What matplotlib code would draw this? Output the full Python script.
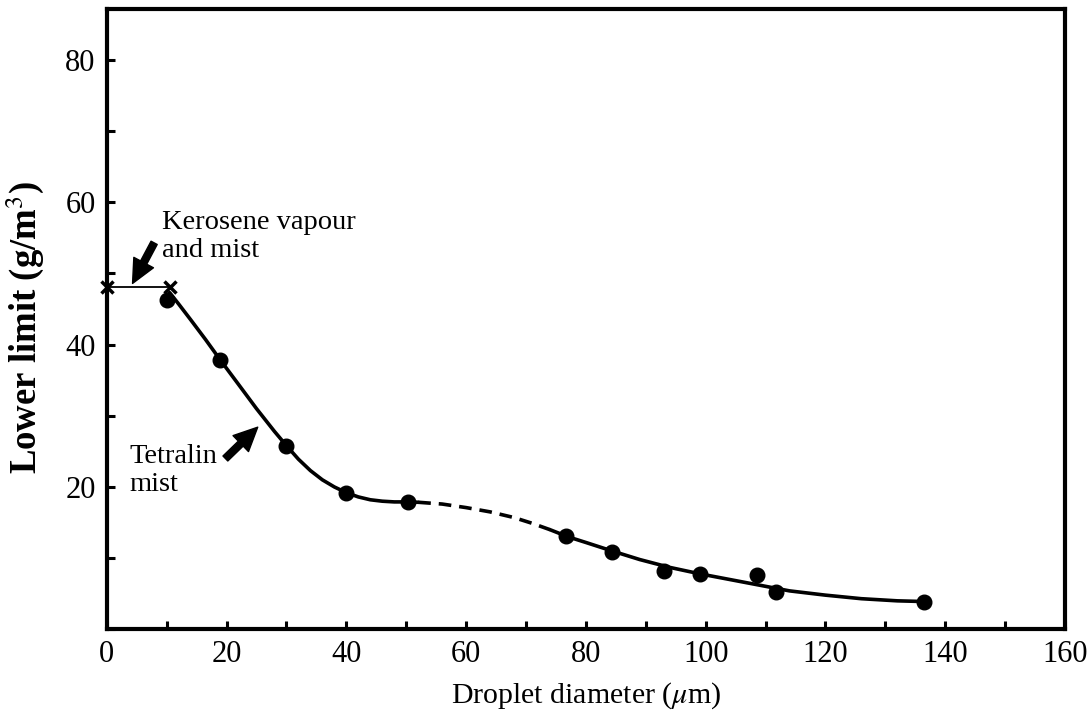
import matplotlib
matplotlib.use("Agg")
import matplotlib.pyplot as plt

# measured points (tetralin mist)
pt_x = [10.0, 18.9, 30.0, 40.0, 50.3, 76.6, 84.4, 93.0, 99.1, 108.5, 111.8, 136.5]
pt_y = [46.2, 37.9, 25.8, 19.2, 17.9, 13.1, 10.9, 8.2, 7.7, 7.6, 5.2, 3.9]

# kerosene vapour and mist
ker_x = [0.0, 10.5]
ker_y = [48.1, 48.1]

# fitted curve in three pieces
curve1_x = [10.5, 12.0, 14.0, 16.5, 18.9, 22.0, 25.0, 28.0, 30.0, 32.0, 34.0,
            36.0, 38.0, 40.0, 42.0, 44.0, 46.0, 48.0, 50.0, 52.0]
curve1_y = [47.3, 45.7, 43.5, 40.7, 37.9, 34.4, 31.0, 27.8, 25.8, 23.9, 22.3,
            21.0, 20.0, 19.2, 18.6, 18.2, 18.0, 17.9, 17.9, 17.85]
curve2_x = [52.0, 56.0, 60.0, 64.0, 68.0, 71.0, 74.0]
curve2_y = [17.85, 17.6, 17.1, 16.5, 15.7, 14.9, 14.0]
curve3_x = [74.0, 77.0, 80.0, 84.4, 89.0, 94.0, 99.0, 104.0, 109.0, 114.0,
            120.0, 126.0, 132.0, 136.5]
curve3_y = [14.0, 13.0, 12.2, 11.0, 9.8, 8.7, 7.8, 7.0, 6.2, 5.4, 4.8, 4.3,
            4.0, 3.9]

plt.rcParams["font.family"] = ["Liberation Serif", "DejaVu Serif"]
plt.rcParams["mathtext.fontset"] = "stix"

fig = plt.figure(figsize=(10.9, 7.25), dpi=100)
ax = fig.add_axes([0.098, 0.132, 0.879, 0.856])

ax.plot(curve1_x, curve1_y, "-", color="black", lw=2.6, solid_capstyle="round")
ax.plot(curve2_x, curve2_y, "--", color="black", lw=2.6, dashes=(3.5, 2.2))
ax.plot(curve3_x, curve3_y, "-", color="black", lw=2.6, solid_capstyle="round")
ax.plot(pt_x, pt_y, "o", color="black", ms=10.5, zorder=3)
ax.plot(ker_x, ker_y, "-", color="black", lw=1.3)
ax.plot(ker_x, ker_y, "x", color="black", ms=9, mew=2.5, clip_on=False, zorder=4)

arrow = dict(facecolor="black", edgecolor="black", width=5, headwidth=16,
             headlength=17, shrink=0)
ax.annotate("", xy=(4.3, 48.6), xytext=(7.9, 54.3), arrowprops=arrow)
ax.annotate("", xy=(25.2, 28.4), xytext=(19.8, 24.0), arrowprops=arrow)
ax.text(9.2, 55.2, "Kerosene vapour\nand mist", fontsize=20.5, va="center",
        ha="left", linespacing=1.2)
ax.text(3.8, 22.3, "Tetralin\nmist", fontsize=20.5, va="center", ha="left",
        linespacing=1.2)

ax.set_xlim(0, 160)
ax.set_ylim(0, 87.2)
ax.set_xticks(range(0, 161, 10))
ax.set_xticklabels([str(v) if v % 20 == 0 else "" for v in range(0, 161, 10)])
ax.set_yticks(range(0, 81, 10))
ax.set_yticklabels([str(v) if v % 20 == 0 and v > 0 else "" for v in range(0, 81, 10)])
ax.tick_params(direction="in", length=6, width=2.2, labelsize=22, pad=8,
               top=False, right=False)

for s in ax.spines.values():
    s.set_linewidth(3)

ax.set_xlabel(r"Droplet diameter ($\mu$m)", fontsize=21.5, labelpad=8)
ax.set_ylabel(r"Lower limit (g/m$^3$)", fontsize=26.5, fontweight="bold")
ax.yaxis.set_label_coords(-0.064, 0.487)

fig.savefig("out.png", dpi=100)
